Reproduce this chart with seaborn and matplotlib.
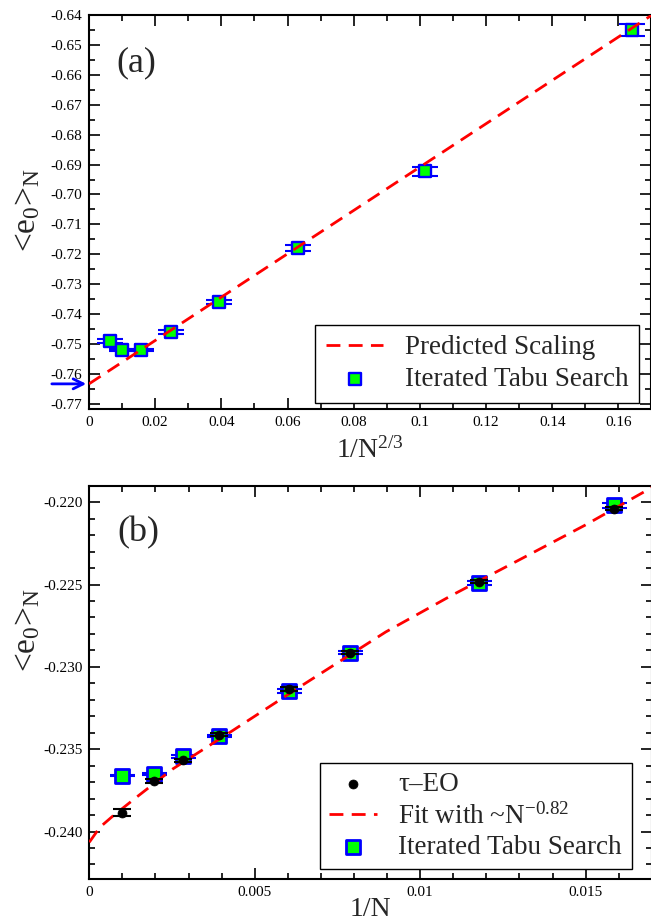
import matplotlib
matplotlib.use("Agg")
import matplotlib.pyplot as plt
from matplotlib.ticker import MultipleLocator, FuncFormatter
import seaborn as sns
import pandas as pd

# --- panel (a): 1/N^(2/3) scaling ---
x_a = [0.00624, 0.00995, 0.0156, 0.0247, 0.0394, 0.0631, 0.1014, 0.1642]
its_a = [-0.7491, -0.7520, -0.7520, -0.7459, -0.7359, -0.7179, -0.6923, -0.6450]
its_a_err = [0.0007, 0.0004, 0.0004, 0.0007, 0.0008, 0.0009, 0.0014, 0.0020]
pred_x = [0.0, 0.17]
pred_y = [-0.7633, -0.6401]
e_inf = -0.7633

# --- panel (b): 1/N scaling ---
x_b = [0.00099, 0.00196, 0.00282, 0.00393, 0.00605, 0.00787, 0.01177, 0.01586]
its_b = [-0.2366, -0.23653, -0.23544, -0.2342, -0.23147, -0.22914, -0.2249, -0.22018]
its_b_err = [0.00005, 0.00006, 0.00008, 0.00008, 0.00012, 0.0001, 0.00012, 0.00015]
eo_b = [-0.23886, -0.23694, -0.23568, -0.23412, -0.23135, -0.22914, -0.22482, -0.2204]
eo_b_err = [0.00022, 0.00013, 0.0001, 0.0001, 0.0001, 0.0001, 0.0001, 0.0001]
fit_x = [0.0, 0.00032, 0.0007, 0.00143, 0.00253, 0.00434, 0.00635, 0.00896,
         0.01096, 0.01297, 0.01498, 0.0170]
fit_y = [-0.24065, -0.23974, -0.23908, -0.23791, -0.23619, -0.23386, -0.23123,
         -0.22788, -0.22565, -0.22353, -0.2214, -0.21911]

sns.set_theme(style="ticks")
plt.rcParams["font.family"] = ["Liberation Serif", "DejaVu Serif"]
plt.rcParams["mathtext.fontset"] = "custom"
plt.rcParams["mathtext.rm"] = "Liberation Serif"
plt.rcParams["mathtext.it"] = "Liberation Serif:italic"
plt.rcParams["axes.unicode_minus"] = False

GREEN, BLUE, RED = "#00FF00", "#0000FF", "#FF0000"

W, H = 651, 921
fig = plt.figure(figsize=(W / 100, H / 100), dpi=100)
ax_a = fig.add_axes([89 / W, 1 - 409 / H, 562.5 / W, 394 / H])
ax_b = fig.add_axes([89.3 / W, 1 - 879.3 / H, 562.5 / W, 393.6 / H])


def style_axis(ax, xmaj, xmin, ymaj, ymin, yfmt):
    for s in ax.spines.values():
        s.set_linewidth(1.5)
        s.set_color("black")
        s.set_visible(True)
    ax.xaxis.set_major_locator(MultipleLocator(xmaj))
    ax.xaxis.set_minor_locator(MultipleLocator(xmin))
    ax.yaxis.set_major_locator(MultipleLocator(ymaj))
    ax.yaxis.set_minor_locator(MultipleLocator(ymin))
    ax.xaxis.set_major_formatter(FuncFormatter(lambda v, p: "%g" % round(v, 6)))
    ax.yaxis.set_major_formatter(FuncFormatter(lambda v, p: yfmt % v))
    ax.tick_params(which="both", direction="in", top=True, right=True,
                   colors="black", labelsize=11)
    ax.tick_params(which="major", length=8, width=1.2, pad=5)
    ax.tick_params(which="minor", length=4.3, width=1.2)
    ax.set_facecolor("white")


# ---------- (a) ----------
df_a = pd.DataFrame({"x": x_a, "y": its_a})
ax_a.errorbar(x_a, its_a, yerr=its_a_err, fmt="none", ecolor=BLUE,
              elinewidth=1.5, capsize=9.4, capthick=1.5, zorder=2)
sns.scatterplot(data=df_a, x="x", y="y", marker="s", s=68, color=GREEN,
                edgecolor=BLUE, linewidth=1.7, label="Iterated Tabu Search",
                zorder=2.5, ax=ax_a)
sns.lineplot(x=pred_x, y=pred_y, color=RED, linewidth=2, estimator=None,
             sort=False, linestyle=(0, (5, 3)), label="Predicted Scaling",
             zorder=3, ax=ax_a)
ax_a.set_xlim(0, 0.17)
ax_a.set_ylim(-0.7717, -0.64)
style_axis(ax_a, 0.02, 0.01, 0.01, 0.005, "%.2f")
ax_a.annotate("", xy=(0, e_inf), xycoords=("axes fraction", "data"),
              xytext=(-0.071, e_inf), textcoords=("axes fraction", "data"),
              arrowprops=dict(arrowstyle="->,head_length=0.6,head_width=0.3",
                              color=BLUE, lw=2),
              annotation_clip=False)
ax_a.text(0.085, 0.878, "(a)", transform=ax_a.transAxes, fontsize=26,
          ha="center", va="center")
ax_a.set_xlabel(r"1/N$^{2/3}$", fontsize=20, va="baseline")
ax_a.xaxis.set_label_coords(0.5, -0.124)
ax_a.set_ylabel(r"<e$_0$>$_\mathrm{N}$", fontsize=24, va="center")
ax_a.yaxis.set_label_coords(-0.110, 0.505)
h, l = ax_a.get_legend_handles_labels()
order = ["Predicted Scaling", "Iterated Tabu Search"]
hh = [h[l.index(k)] for k in order]
ax_a.legend(hh, order, loc="lower right", bbox_to_anchor=(0.978, 0.015),
            borderaxespad=0, fontsize=19.5, frameon=True, fancybox=False,
            edgecolor="black", framealpha=1, handlelength=2.1,
            handletextpad=0.8, labelspacing=0.25, borderpad=0.4,
            scatterpoints=1).get_frame().set_linewidth(1.0)

# ---------- (b) ----------
df_its = pd.DataFrame({"x": x_b, "y": its_b})
df_eo = pd.DataFrame({"x": x_b, "y": eo_b})
ax_b.errorbar(x_b, its_b, yerr=its_b_err, fmt="none", ecolor=BLUE,
              elinewidth=1.5, capsize=9.0, capthick=1.5, zorder=2)
sns.scatterplot(data=df_its, x="x", y="y", marker="s", s=90, color=GREEN,
                edgecolor=BLUE, linewidth=2.0, label="Iterated Tabu Search",
                zorder=2.5, ax=ax_b)
sns.lineplot(x=fit_x, y=fit_y, color=RED, linewidth=2, estimator=None,
             sort=False, linestyle=(0, (5, 3)), label=r"Fit with ~N$^{-0.82}$",
             zorder=3, ax=ax_b)
ax_b.errorbar(x_b, eo_b, yerr=eo_b_err, fmt="none", ecolor="black",
              elinewidth=1.5, capsize=6.5, capthick=1.5, zorder=3.5)
sns.scatterplot(data=df_eo, x="x", y="y", marker="o", s=42, color="black",
                edgecolor="black", linewidth=0.5, label="\u03c4\u2013EO",
                zorder=4, ax=ax_b)
ax_b.set_xlim(0, 0.017)
ax_b.set_ylim(-0.2429, -0.219)
style_axis(ax_b, 0.005, 0.001, 0.005, 0.001, "%.3f")
ax_b.text(0.087, 0.88, "(b)", transform=ax_b.transAxes, fontsize=26,
          ha="center", va="center")
ax_b.set_xlabel("1/N", fontsize=20, va="baseline")
ax_b.xaxis.set_label_coords(0.5, -0.094)
ax_b.set_ylabel(r"<e$_0$>$_\mathrm{N}$", fontsize=24, va="center")
ax_b.yaxis.set_label_coords(-0.110, 0.633)
h, l = ax_b.get_legend_handles_labels()
order = ["\u03c4\u2013EO", r"Fit with ~N$^{-0.82}$", "Iterated Tabu Search"]
hh = [h[l.index(k)] for k in order]
ax_b.legend(hh, order, loc="lower right", bbox_to_anchor=(0.964, 0.0254),
            borderaxespad=0, fontsize=19.5, frameon=True, fancybox=False,
            edgecolor="black", framealpha=1, handlelength=1.75,
            handletextpad=0.8, labelspacing=0.2, borderpad=0.35,
            scatterpoints=1).get_frame().set_linewidth(1.0)

fig.savefig("out.png", dpi=100)
